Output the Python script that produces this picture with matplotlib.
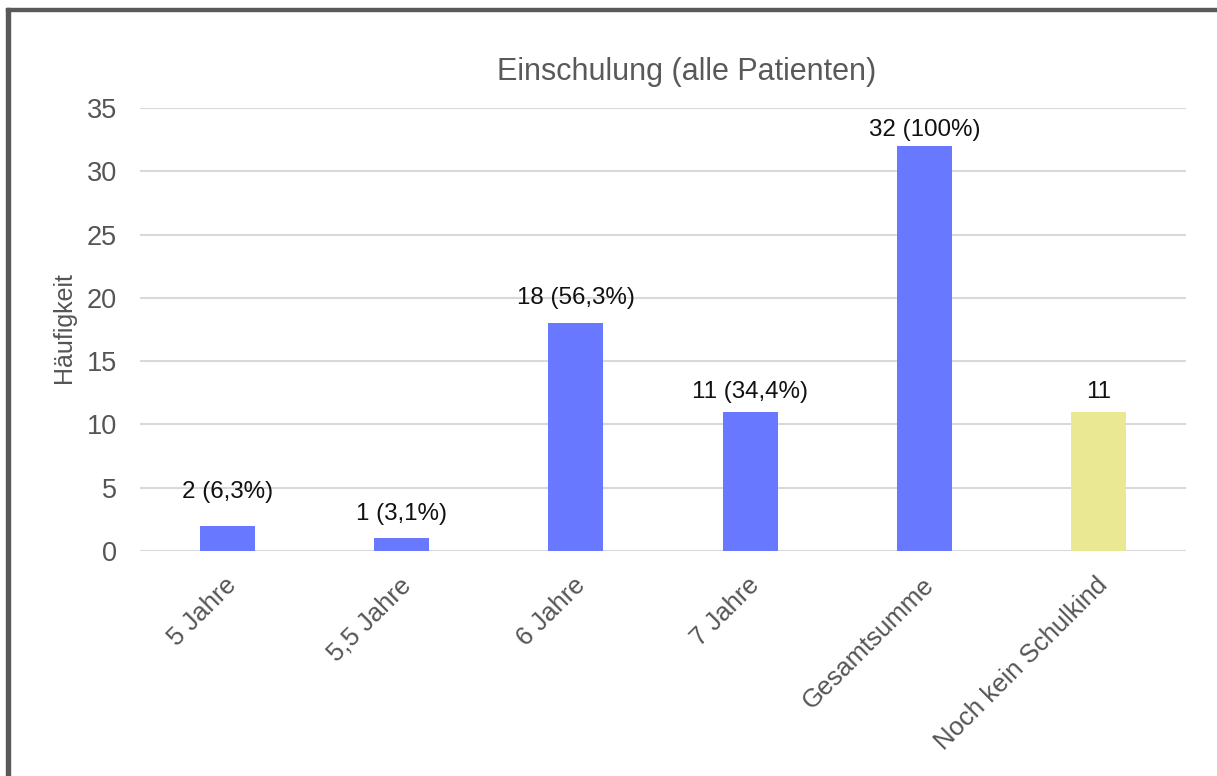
import matplotlib
matplotlib.use("Agg")
import matplotlib.pyplot as plt
from matplotlib.patches import Rectangle

plt.rcParams['font.family'] = ['Liberation Sans', 'DejaVu Sans']

categories = ["5 Jahre", "5,5 Jahre", "6 Jahre", "7 Jahre", "Gesamtsumme", "Noch kein Schulkind"]
counts = [2, 1, 18, 11, 32, 11]
value_labels = ["2 (6,3%)", "1 (3,1%)", "18 (56,3%)", "11 (34,4%)", "32 (100%)", "11"]
bar_colors = ["#6879ff", "#6879ff", "#6879ff", "#6879ff", "#6879ff", "#ebe894"]
y_ticks = [0, 5, 10, 15, 20, 25, 30, 35]

W, H = 1217, 776
fig = plt.figure(figsize=(W / 100, H / 100), dpi=100)
fig.patch.set_facecolor("white")

# outer frame (left and top edges)
fig.patches.append(Rectangle((6 / W, 0), 4 / W, 1 - 8 / H, transform=fig.transFigure,
                             color="#595959", zorder=0))
fig.patches.append(Rectangle((6 / W, 1 - 11 / H), 1 - 6 / W, 3 / H, transform=fig.transFigure,
                             color="#595959", zorder=0))

left, right = 140 / W, 1186 / W
bottom, top = 1 - 551 / H, 1 - 108 / H
ax = fig.add_axes([left, bottom, right - left, top - bottom])

x = list(range(len(categories)))
ax.bar(x, counts, width=0.315, color=bar_colors, zorder=2)
ax.set_xlim(-0.5, len(categories) - 0.5)
ax.set_ylim(0, 35)
ax.set_yticks(y_ticks)
ax.yaxis.grid(True, color="#d9d9d9", linewidth=1.5, zorder=0)
ax.set_axisbelow(True)
for s in ax.spines.values():
    s.set_visible(False)
ax.tick_params(axis="y", length=0, pad=16.5, labelsize=19.5, labelcolor="#555555")
ax.tick_params(axis="x", length=0)
ax.set_xticks(x)
ax.set_xticklabels([])

# vertical gap (points) between each bar top and its value label
label_gaps = [16, 9.5, 10, 6.5, 3.5, 6.5]
for xi, c, lab, gap in zip(x, counts, value_labels, label_gaps):
    ax.annotate(lab, (xi, c), xytext=(0, gap), textcoords="offset points",
                ha="center", va="bottom", fontsize=17.4, color="#111111")

for xi, cat in zip(x, categories):
    ax.annotate(cat, (xi, 0), xytext=(4, -22), textcoords="offset points",
                ha="right", va="center", rotation=45, rotation_mode="anchor",
                fontsize=18.5, color="#555555")

fig.text(64 / W, 1 - 328 / H, "Häufigkeit", rotation=90, ha="center", va="center",
         fontsize=18, color="#555555")
fig.text(687 / W, 1 - 72 / H, "Einschulung (alle Patienten)", ha="center", va="center",
         fontsize=22, color="#595959")

fig.savefig("out.png", dpi=100, facecolor="white")
